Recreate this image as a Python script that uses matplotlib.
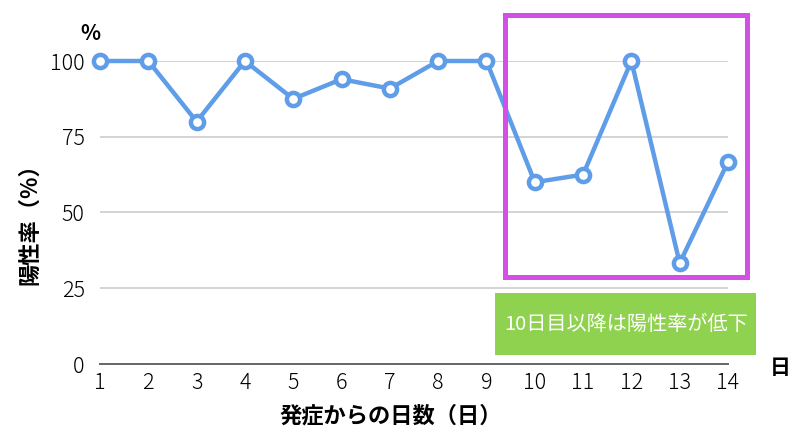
import matplotlib
matplotlib.use("Agg")
import matplotlib.pyplot as plt
from matplotlib.patches import Rectangle

plt.rcParams['font.family'] = ['Noto Sans CJK JP', 'DejaVu Sans']

# 発症からの日数と陽性率
days = [1, 2, 3, 4, 5, 6, 7, 8, 9, 10, 11, 12, 13, 14]
positive_rate = [100, 100, 80, 100, 87.5, 94, 90.9, 100, 100, 60, 62.5, 100, 33.3, 66.7]
y_ticks = [0, 25, 50, 75, 100]
note = "10日目以降は陽性率が低下"

blue = "#5f9de8"

fig = plt.figure(figsize=(8, 4.4), dpi=100)
ax = fig.add_axes([100/800, 1 - 364/440, 628/800, 303/440])

ax.plot(days, positive_rate, color=blue, lw=3.2, marker='o', ms=9.5,
        mfc='white', mec=blue, mew=3.2, clip_on=False, zorder=5)

ax.set_xlim(1, 14)
ax.set_ylim(0, 100)
ax.set_xticks(days)
ax.set_yticks(y_ticks)
ax.tick_params(axis='both', length=0, labelsize=15.5)
ax.tick_params(axis='y', pad=11)
ax.tick_params(axis='x', pad=6)
for lab in ax.get_xticklabels() + ax.get_yticklabels():
    lab.set_fontweight(300)
ax.grid(axis='y', color='#d3d3d3', lw=1.4)
ax.set_axisbelow(True)
for s in ['top', 'right', 'left']:
    ax.spines[s].set_visible(False)
ax.spines['bottom'].set_color('#666666')
ax.spines['bottom'].set_linewidth(1.4)

# 10日目以降の枠
ax.add_patch(Rectangle((9.38, 28.7), 5.01, 86.5, fill=False, ec='#d34fe5',
                       lw=3.6, clip_on=False, zorder=6))
ax.add_patch(Rectangle((9.18, 3.0), 5.4, 20.4, fc='#8fd24f', ec='none',
                       clip_on=False, zorder=6))
ax.text(11.88, 13.2, note, color='white', fontsize=14.5, ha='center', va='center',
        zorder=7)

fig.text(90/800, 1 - 33/440, "%", fontsize=15, fontweight='bold', ha='center', va='center')
fig.text(780/800, 1 - 368/440, "日", fontsize=15, fontweight='bold', ha='center', va='center')
fig.text(30/800, 1 - 219/440, "陽性率（%）", fontsize=16, fontweight='bold', rotation=90,
         ha='center', va='center')
fig.text(391/800, 1 - 416/440, "発症からの日数（日）", fontsize=16, fontweight='bold',
         ha='center', va='center')

fig.savefig("out.png", dpi=100)
